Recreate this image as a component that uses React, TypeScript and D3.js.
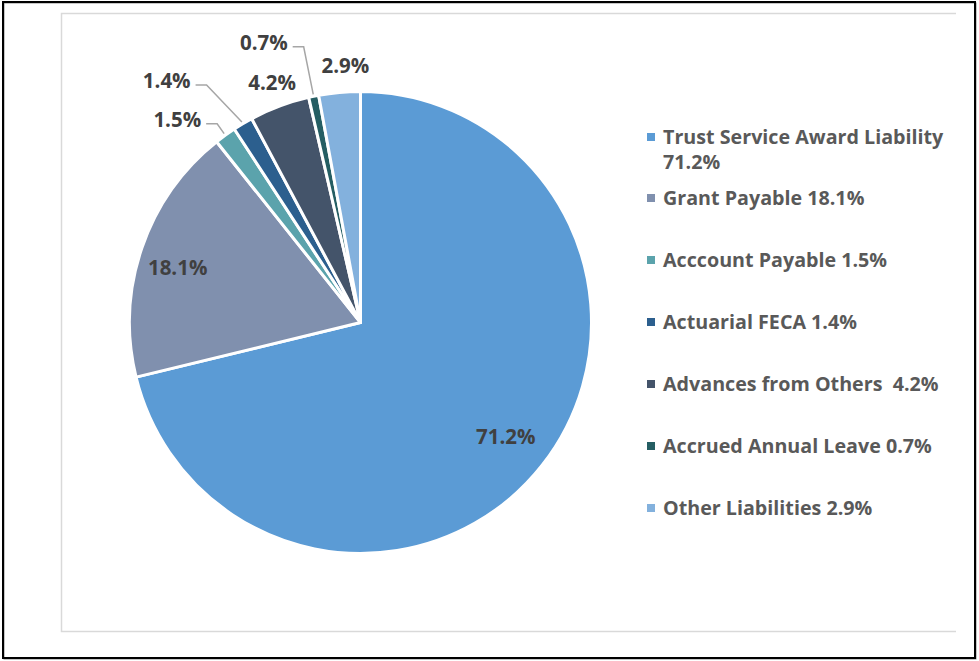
import { useEffect, useRef } from 'react';
import * as d3 from 'd3';

const categories = [
  'Trust Service Award Liability',
  'Grant Payable',
  'Acccount Payable',
  'Actuarial FECA',
  'Advances from Others ',
  'Accrued Annual Leave',
  'Other Liabilities',
];
const shares = [71.2, 18.1, 1.5, 1.4, 4.2, 0.7, 2.9];
const colors = ['#5B9BD5', '#8090AE', '#5BA3AC', '#2C5F8E', '#44546A', '#255E63', '#83B1DD'];

// label placement: inside or outside end, plus nudges for the dragged labels
const labelPlace = ['in', 'in', 'out', 'out', 'out', 'out', 'out'];
const labelNudge: [number, number][] = [[0, 0], [-8, 5], [-34, 4], [-64, -22], [1, -1], [-45, -30], [8, -3]];
const hasLeader = [false, false, true, true, false, true, false];

const W = 979;
const H = 661;
const FONT = '"Open Sans", Calibri, sans-serif';

export default function App() {
  const svgRef = useRef<SVGSVGElement>(null);

  useEffect(() => {
    document.body.style.margin = '0';
    if (!svgRef.current) return;
    const svg = d3.select(svgRef.current);
    svg.selectAll('*').remove();

    svg.append('rect').attr('width', W).attr('height', H).attr('fill', '#fff');

    // frame
    svg.append('rect').attr('x', 4).attr('y', 3).attr('width', 972).attr('height', 656)
      .attr('fill', 'none').attr('stroke', '#8c8c8c').attr('stroke-width', 1);
    svg.append('rect').attr('x', 3).attr('y', 2).attr('width', 972).attr('height', 656)
      .attr('fill', 'none').attr('stroke', '#000').attr('stroke-width', 2);

    // chart area border (right side not visible)
    svg.append('path').attr('d', 'M956,13.5H61.5V631.5H956')
      .attr('fill', 'none').attr('stroke', '#d9d9d9').attr('stroke-width', 1.5);

    const cx = 360.5;
    const cy = 322.5;
    const r = 231;

    const pie = d3.pie<number>().sort(null).value((d) => d);
    const arcs = pie(shares);
    const arc = d3.arc<d3.PieArcDatum<number>>().innerRadius(0).outerRadius(r);

    const g = svg.append('g').attr('transform', `translate(${cx},${cy})`);

    g.selectAll('path.slice')
      .data(arcs)
      .join('path')
      .attr('class', 'slice')
      .attr('d', arc)
      .attr('fill', (_, i) => colors[i])
      .attr('stroke', '#fff')
      .attr('stroke-width', 3)
      .attr('stroke-linejoin', 'round');

    const inArc = d3.arc<d3.PieArcDatum<number>>().innerRadius(r * 0.8).outerRadius(r * 0.8);
    const outArc = d3.arc<d3.PieArcDatum<number>>().innerRadius(r + 24).outerRadius(r + 24);
    const rimArc = d3.arc<d3.PieArcDatum<number>>().innerRadius(r + 2).outerRadius(r + 2);

    arcs.forEach((a, i) => {
      const base = labelPlace[i] === 'in' ? inArc.centroid(a) : outArc.centroid(a);
      const x = base[0] + labelNudge[i][0];
      const y = base[1] + labelNudge[i][1];
      const t = g.append('text')
        .attr('x', x)
        .attr('y', y)
        .attr('text-anchor', 'middle')
        .attr('dy', '0.36em')
        .attr('font-family', FONT)
        .attr('font-weight', 700)
        .attr('font-size', 20.5)
        .attr('fill', '#404040')
        .text(`${shares[i].toFixed(1)}%`);
      if (hasLeader[i]) {
        const bb = (t.node() as SVGTextElement).getBBox();
        const p0: [number, number] = [bb.x + bb.width + 5, y + 4];
        const p1: [number, number] = [p0[0] + 11, p0[1]];
        const p2 = rimArc.centroid(a) as [number, number];
        g.append('path')
          .attr('d', d3.line()([p0, p1, p2]))
          .attr('fill', 'none')
          .attr('stroke', '#A6A6A6')
          .attr('stroke-width', 1.5);
      }
    });

    // legend
    const lx = 651;
    const legend = svg.append('g').attr('font-family', FONT).attr('font-weight', 700).attr('font-size', 19.7).attr('fill', '#595959');
    const rowY = d3.scaleLinear().domain([1, 6]).range([198, 508]);
    categories.forEach((c, i) => {
      const y = i === 0 ? 137 : rowY(i);
      legend.append('rect').attr('x', lx - 4).attr('y', y - 4).attr('width', 8).attr('height', 8).attr('fill', colors[i]);
      const t = legend.append('text').attr('x', lx + 12).attr('y', y).attr('dy', '0.36em').attr('xml:space', 'preserve');
      if (i === 0) {
        t.append('tspan').text(c);
        t.append('tspan').attr('x', lx + 12).attr('dy', 25).text(`${shares[i].toFixed(1)}%`);
      } else {
        t.text(`${c} ${shares[i].toFixed(1)}%`);
      }
    });
  }, []);

  return <svg ref={svgRef} width={W} height={H} style={{ display: 'block' }} />;
}
